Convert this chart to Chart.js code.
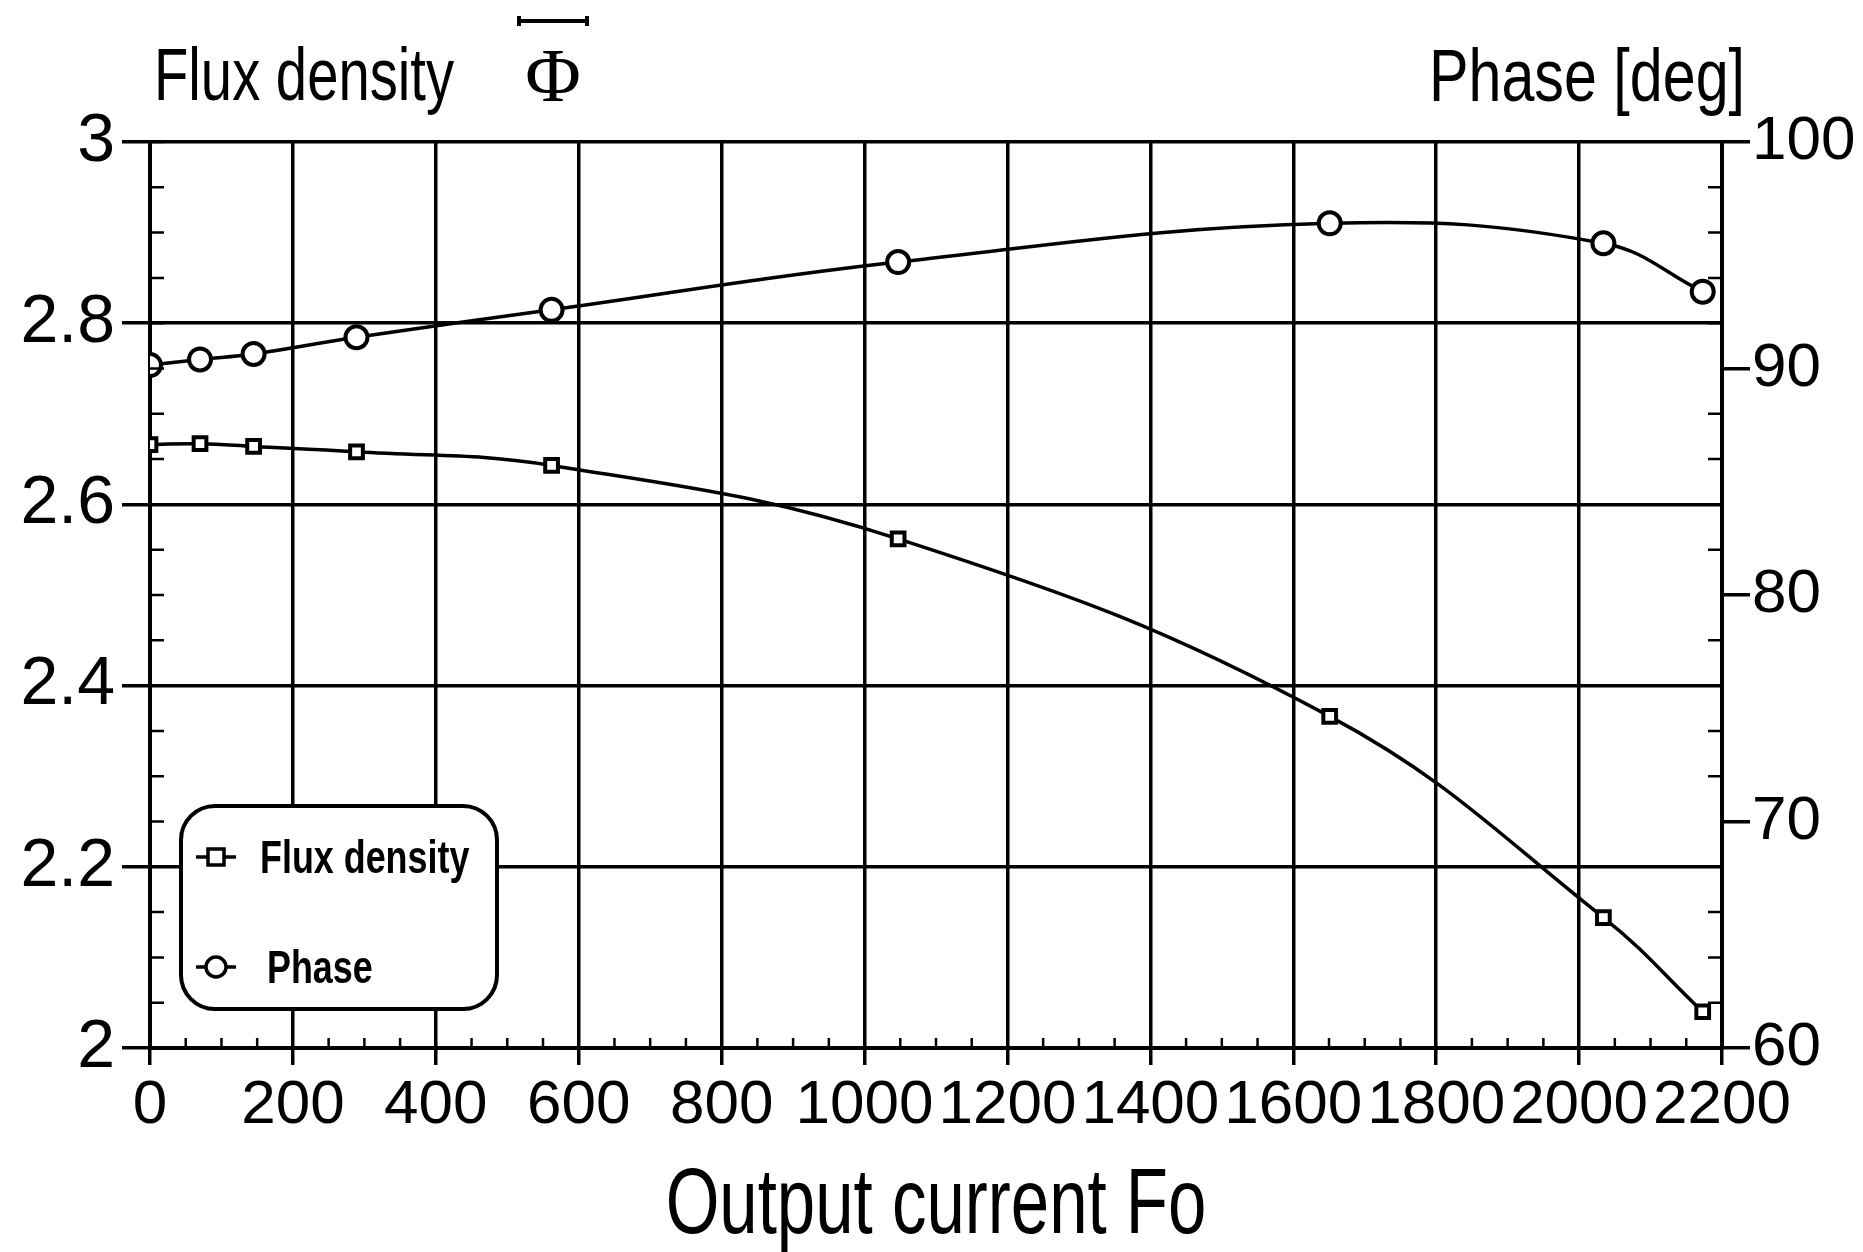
<!DOCTYPE html>
<html>
<head>
<meta charset="utf-8">
<title>Flux density and phase vs output current</title>
<script src="https://cdn.jsdelivr.net/npm/chart.js@4.4.1/dist/chart.umd.min.js"></script>
<style>
  html, body { margin: 0; padding: 0; background: #fff; }
  canvas { display: block; }
</style>
</head>
<body>
<canvas id="fluxChart" width="1863" height="1252"></canvas>
<script>
// valeurs
const outputCurrent = [0, 70, 145, 289, 562, 1047, 1651, 2034, 2173];
const fluxDensity = [2.666, 2.667, 2.664, 2.658, 2.643, 2.562, 2.366, 2.144, 2.040];
const phaseDeg = [90.15, 90.4, 90.64, 91.38, 92.59, 94.7, 96.41, 95.53, 93.39];

const xTicks = [0, 200, 400, 600, 800, 1000, 1200, 1400, 1600, 1800, 2000, 2200];
const fluxTicks = [2, 2.2, 2.4, 2.6, 2.8, 3];
const phaseTicks = [60, 70, 80, 90, 100];

const FONT = "'Liberation Sans', Arial, sans-serif";

// texte étroit (la figure utilise une police condensée)
function narrowText(ctx, text, x, y, font, sx, align) {
  ctx.save();
  ctx.font = font;
  ctx.textAlign = align;
  ctx.textBaseline = 'alphabetic';
  ctx.translate(x, y);
  ctx.scale(sx, 1);
  ctx.fillText(text, 0, 0);
  ctx.restore();
}

// petites graduations intérieures
const minorTicks = {
  id: 'minorTicks',
  afterDraw(chart) {
    const ctx = chart.ctx;
    const area = chart.chartArea;
    const x = chart.scales.x, y = chart.scales.y, y1 = chart.scales.y1;
    ctx.save();
    ctx.strokeStyle = '#000';
    ctx.lineWidth = 2.5;
    ctx.beginPath();
    for (let v = 2.05; v < 3; v += 0.05) {
      const py = y.getPixelForValue(v);
      ctx.moveTo(area.left, py); ctx.lineTo(area.left + 14, py);
    }
    for (let v = 62; v < 100; v += 2) {
      if (v % 10 === 0) continue;
      const py = y1.getPixelForValue(v);
      ctx.moveTo(area.right, py); ctx.lineTo(area.right - 14, py);
    }
    for (let v = 50; v < 2200; v += 50) {
      if (v % 200 === 0) continue;
      const px = x.getPixelForValue(v);
      ctx.moveTo(px, area.bottom); ctx.lineTo(px, area.bottom - 10);
    }
    ctx.stroke();
    ctx.restore();
  }
};

// titres des axes
const axisHeaders = {
  id: 'axisHeaders',
  afterDraw(chart) {
    const ctx = chart.ctx;
    const area = chart.chartArea;
    ctx.save();
    ctx.fillStyle = '#000';
    narrowText(ctx, 'Flux density', area.left + 4, 100, '74px ' + FONT, 0.76, 'left');
    narrowText(ctx, 'Phase [deg]', area.right + 23, 101, '74px ' + FONT, 0.8, 'right');
    narrowText(ctx, 'Output current Fo', (area.left + area.right) / 2, 1233, '92px ' + FONT, 0.75, 'center');
    ctx.font = "76px 'Liberation Serif', 'DejaVu Serif', serif";
    ctx.textAlign = 'center';
    ctx.fillText('\u03A6', 553, 101);
    ctx.lineWidth = 4;
    ctx.beginPath();
    ctx.moveTo(518, 21); ctx.lineTo(588, 21);
    ctx.moveTo(519, 16); ctx.lineTo(519, 26);
    ctx.moveTo(587, 16); ctx.lineTo(587, 26);
    ctx.stroke();
    ctx.restore();
  }
};

// légende encadrée dans le graphique
const boxLegend = {
  id: 'boxLegend',
  afterDraw(chart) {
    const ctx = chart.ctx;
    const left = 181, top = 806, w = 316, h = 203, r = 34;
    ctx.save();
    ctx.beginPath();
    ctx.roundRect(left, top, w, h, r);
    ctx.fillStyle = '#fff';
    ctx.fill();
    ctx.lineWidth = 4;
    ctx.strokeStyle = '#000';
    ctx.stroke();
    const rows = [857, 967];
    chart.data.datasets.forEach((ds, i) => {
      const cy = rows[i];
      ctx.lineWidth = 3.5;
      ctx.beginPath();
      ctx.moveTo(196, cy); ctx.lineTo(236, cy);
      ctx.stroke();
      ctx.fillStyle = '#fff';
      ctx.beginPath();
      if (ds.pointStyle === 'rect') {
        ctx.rect(216 - 8, cy - 8, 16, 16);
      } else {
        ctx.arc(216, cy, 10, 0, Math.PI * 2);
      }
      ctx.fill();
      ctx.stroke();
      ctx.fillStyle = '#000';
      narrowText(ctx, ds.label, i === 0 ? 260 : 267, cy + 16, 'bold 46px ' + FONT, 0.78, 'left');
    });
    ctx.restore();
  }
};

const ctx = document.getElementById('fluxChart').getContext('2d');
new Chart(ctx, {
  type: 'line',
  data: {
    datasets: [
      {
        label: 'Flux density',
        data: outputCurrent.map((c, i) => ({ x: c, y: fluxDensity[i] })),
        yAxisID: 'y',
        borderColor: '#000',
        borderWidth: 3.5,
        backgroundColor: '#fff',
        pointStyle: 'rect',
        pointRadius: 9,
        pointBorderWidth: 4,
        pointBorderColor: '#000',
        pointBackgroundColor: '#fff',
        tension: 0.4,
        fill: false
      },
      {
        label: 'Phase',
        data: outputCurrent.map((c, i) => ({ x: c, y: phaseDeg[i] })),
        yAxisID: 'y1',
        borderColor: '#000',
        borderWidth: 3.5,
        backgroundColor: '#fff',
        pointStyle: 'circle',
        pointRadius: 11,
        pointBorderWidth: 4,
        pointBorderColor: '#000',
        pointBackgroundColor: '#fff',
        tension: 0.4,
        fill: false
      }
    ]
  },
  options: {
    responsive: false,
    animation: false,
    layout: { padding: { top: 142, left: 0, right: 0, bottom: 0 } },
    plugins: {
      legend: { display: false },
      tooltip: { enabled: false }
    },
    scales: {
      x: {
        type: 'linear',
        min: 0,
        max: 2200,
        afterBuildTicks: scale => { scale.ticks = xTicks.map(v => ({ value: v })); },
        afterFit: scale => { scale.height = 204; },
        ticks: {
          color: '#000',
          font: { family: FONT, size: 62 },
          padding: 4,
          maxRotation: 0,
          autoSkip: false,
          callback: v => String(v)
        },
        grid: { color: '#000', lineWidth: 3.5, tickLength: 17 },
        border: { color: '#000', width: 4 }
      },
      y: {
        position: 'left',
        min: 2,
        max: 3,
        afterBuildTicks: scale => { scale.ticks = fluxTicks.map(v => ({ value: v })); },
        afterFit: scale => { scale.width = 150; },
        ticks: {
          color: '#000',
          font: { family: FONT, size: 68 },
          padding: 7,
          callback: v => String(v)
        },
        grid: { color: '#000', lineWidth: 3.5, tickLength: 28 },
        border: { color: '#000', width: 4 }
      },
      y1: {
        position: 'right',
        min: 60,
        max: 100,
        afterBuildTicks: scale => { scale.ticks = phaseTicks.map(v => ({ value: v })); },
        afterFit: scale => { scale.width = 141; },
        ticks: {
          color: '#000',
          font: { family: FONT, size: 62 },
          padding: 2,
          callback: v => String(v)
        },
        grid: { color: '#000', lineWidth: 3.5, tickLength: 28, drawOnChartArea: false },
        border: { color: '#000', width: 4 }
      }
    }
  },
  plugins: [minorTicks, axisHeaders, boxLegend]
});
</script>
</body>
</html>
